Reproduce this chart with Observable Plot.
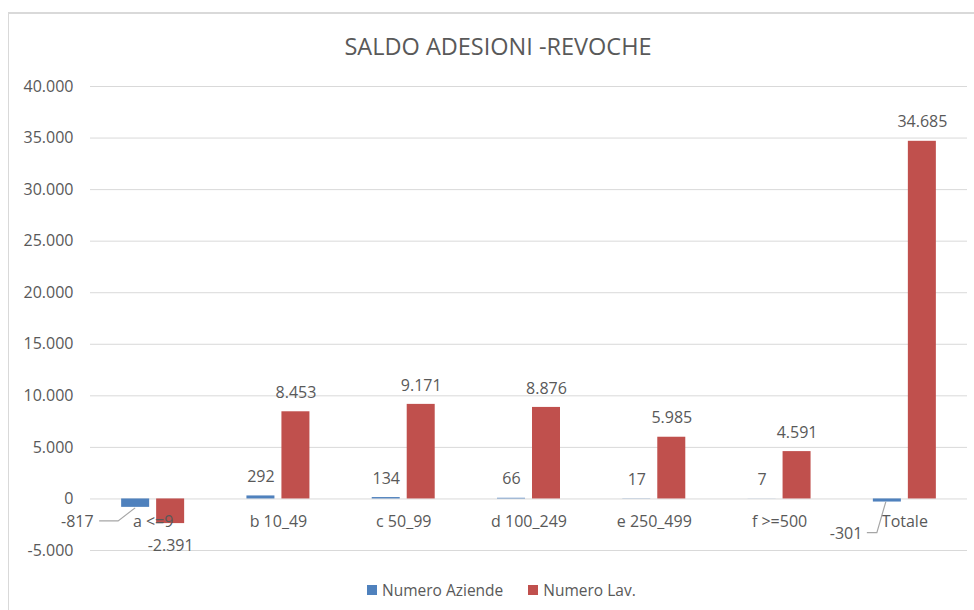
<!DOCTYPE html>
<html>
<head>
<meta charset="utf-8">
<script src="https://cdn.jsdelivr.net/npm/d3@7"></script>
<script src="https://cdn.jsdelivr.net/npm/@observablehq/plot@0.6"></script>
<style>
  html, body { margin: 0; padding: 0; background: #fff; overflow: hidden; }
  body { width: 974px; height: 610px; position: relative; font-family: "Open Sans", sans-serif; }
  #frame { position: absolute; left: 8px; top: 12px; width: 1200px; height: 1200px;
           border-left: 1.5px solid #d9d9d9; border-top: 2px solid #d9d9d9; box-sizing: border-box; }
  #title { position: relative; height: 70px; box-sizing: border-box; padding-top: 31px;
           padding-left: 22px; text-align: center; font-size: 23.5px; color: #595959; line-height: 30px; }
  #chart { position: relative; height: 500px; }
  #legend { position: relative; height: 40px; display: flex; align-items: center; padding-left: 367px;
            font-size: 15.5px; color: #595959; }
  .sw { width: 10px; height: 10px; display: inline-block; margin-right: 5px; }
  .item { display: flex; align-items: center; margin-right: 25px; }
</style>
</head>
<body>
<div id="frame"></div>
<div id="title">SALDO ADESIONI -REVOCHE</div>
<div id="chart"></div>
<div id="legend"></div>
<script>
// ---- data ----
const categories = ["a <=9", "b 10_49", "c 50_99", "d 100_249", "e 250_499", "f >=500", "Totale"];
const seriesNames = ["Numero Aziende", "Numero Lav."];
const aziende = [-817, 292, 134, 66, 17, 7, -301];
const lavoratori = [-2391, 8453, 9171, 8876, 5985, 4591, 34685];
const yTicks = [-5000, 0, 5000, 10000, 15000, 20000, 25000, 30000, 35000, 40000];
const colors = ["#4F81BD", "#C0504D"];

// ---- table ----
const rows = categories.flatMap((c, i) => [
  {cat: c, i, s: 0, series: seriesNames[0], value: aziende[i]},
  {cat: c, i, s: 1, series: seriesNames[1], value: lavoratori[i]}
]);

const locale = d3.formatLocale({decimal: ",", thousands: ".", grouping: [3], currency: ["", "€"], minus: "-"});
const fmt = locale.format(",");

const half = 0.2514, inner = 0.0279;
const x1 = d => d.s === 0 ? d.i - half : d.i + inner;
const x2 = d => d.s === 0 ? d.i - inner : d.i + half;
const xc = d => (x1(d) + x2(d)) / 2;

// placement of the callout labels of the negative blue values (pixel offsets)
const callouts = [
  {i: 0, dx: -42, dy: 15, path: [[0, 1], [-17, 14], [-36, 14]]},
  {i: 6, dx: -25, dy: 32, path: [[-1, 0], [-10, 31], [-20, 31]]}
];

const textColor = "#595959";
const posLab = rows.filter(d => d.value >= 0);
const negRed = rows.filter(d => d.value < 0 && d.s === 1);
const negBlue = rows.filter(d => d.value < 0 && d.s === 0);

const calloutMarks = callouts.map(c => {
  const d = negBlue.find(r => r.i === c.i);
  return Plot.text([d], {x: xc, y: "value", text: r => fmt(r.value), textAnchor: "end",
    dx: c.dx, dy: c.dy, fontSize: 16, fill: textColor});
});

const leaderMark = (index, scales) => {
  const g = d3.create("svg:g").attr("fill", "none").attr("stroke", "#a6a6a6").attr("stroke-width", 1.2);
  for (const c of callouts) {
    const d = negBlue.find(r => r.i === c.i);
    const px = scales.x(xc(d)), py = scales.y(d.value);
    g.append("path").attr("d", "M" + c.path.map(([a, b]) => (px + a) + "," + (py + b)).join("L"));
  }
  return g.node();
};

const chart = Plot.plot({
  width: 974,
  height: 500,
  marginLeft: 90,
  marginRight: 7,
  marginTop: 16,
  marginBottom: 20,
  style: {fontFamily: "Open Sans, sans-serif", background: "transparent"},
  x: {domain: [-0.5, 6.5], axis: null},
  y: {domain: [-5000, 40000], axis: null},
  color: {domain: seriesNames, range: colors},
  marks: [
    Plot.ruleY(yTicks, {stroke: "#d9d9d9", strokeWidth: 1}),
    Plot.text(yTicks, {x: -0.5, y: d => d, text: d => fmt(d), textAnchor: "end", dx: -17,
      fontSize: 16, fill: textColor}),
    Plot.rectY(rows, {x1, x2, y: "value", fill: "series"}),
    Plot.text(categories, {x: (d, i) => i, y: () => 0, text: d => d, dy: 23, fontSize: 16, fill: textColor}),
    Plot.text(posLab, {x: xc, y: "value", text: d => fmt(d.value), dy: -19, fontSize: 16, fill: textColor}),
    Plot.text(negRed, {x: xc, y: "value", text: d => fmt(d.value), dy: 22, fontSize: 16, fill: textColor}),
    ...calloutMarks,
    leaderMark
  ]
});
document.getElementById("chart").appendChild(chart);

// legend
const legend = document.getElementById("legend");
seriesNames.forEach((name, k) => {
  const item = document.createElement("div");
  item.className = "item";
  const sw = document.createElement("span");
  sw.className = "sw";
  sw.style.background = colors[k];
  item.appendChild(sw);
  item.appendChild(document.createTextNode(name));
  legend.appendChild(item);
});
</script>
</body>
</html>
